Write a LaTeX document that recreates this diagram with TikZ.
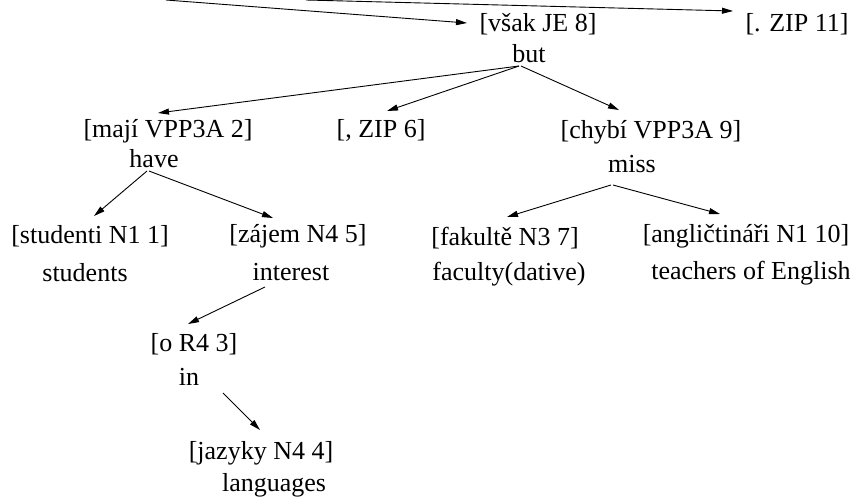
\documentclass[tikz,border=0pt]{standalone}
\usepackage{fontspec}
\setmainfont{Liberation Serif}
\usetikzlibrary{arrows.meta,calc}
\begin{document}
\begin{tikzpicture}[x=1pt,y=-1pt,
  lbl/.style={anchor=base,inner sep=0pt,font=\fontsize{26}{30}\selectfont},
  arr/.style={line width=0.9pt,-{Triangle[length=11pt,width=6pt]}}]
\useasboundingbox (0,0) rectangle (853,496);
% labels
\node[lbl] (vsak) at (538,31) {[však JE 8]};
\node[lbl] (but) at (529,62) {but};
\node[lbl] (zip11) at (797,31) {[. ZIP 11]};
\node[lbl] (maji) at (168,137) {[mají VPP3A 2]};
\node[lbl] (have) at (154,167) {have};
\node[lbl] (zip6) at (381,137) {[, ZIP 6]};
\node[lbl] (chybi) at (651,138) {[chybí VPP3A 9]};
\node[lbl] (miss) at (632,172) {miss};
\node[lbl] (studenti) at (90,243) {[studenti N1 1]};
\node[lbl] (students) at (85,281) {students};
\node[lbl] (zajem) at (298,242) {[zájem N4 5]};
\node[lbl] (interest) at (291,280) {interest};
\node[lbl] (fakulte) at (505,245) {[fakultě N3 7]};
\node[lbl] (faculty) at (509,280) {faculty(dative)};
\node[lbl] (angl) at (746,242) {[angličtináři N1 10]};
\node[lbl] (teachers) at (751,279) {teachers of English};
\node[lbl] (oR) at (194,351) {[o R4 3]};
\node[lbl] (in) at (189,385) {in};
\node[lbl] (jazyky) at (261,459) {[jazyky N4 4]};
\node[lbl] (languages) at (274,491) {languages};
% free ends
\coordinate (s1) at (166,0);
\coordinate (s2) at (306,0);
% connectors
\draw[arr] (s1) -- ($(vsak.base)+(-71,-8)$);
\draw[arr] (s2) -- ($(zip11.base)+(-64,-20)$);
\draw[arr] ($(but.base)+(-10,4)$) -- ($(maji.base)+(-10,-24)$);
\draw[arr] ($(but.base)+(-10,4)$) -- ($(zip6.base)+(6,-26)$);
\draw[arr] ($(but.base)+(-8,4)$) -- ($(chybi.base)+(-32,-28)$);
\draw[arr] ($(have.base)+(-7,4)$) -- ($(studenti.base)+(4,-27)$);
\draw[arr] ($(have.base)+(-5,4)$) -- ($(zajem.base)+(-25,-24)$);
\draw[arr] ($(interest.base)+(-26,7)$) -- ($(oR.base)+(-6,-27)$);
\draw[arr] ($(in.base)+(34,8)$) -- ($(jazyky.base)+(-1,-29)$);
\draw[arr] ($(miss.base)+(-21,13)$) -- ($(fakulte.base)+(2,-28)$);
\draw[arr] ($(miss.base)+(-19,13)$) -- ($(angl.base)+(-26,-28)$);
\end{tikzpicture}
\end{document}
